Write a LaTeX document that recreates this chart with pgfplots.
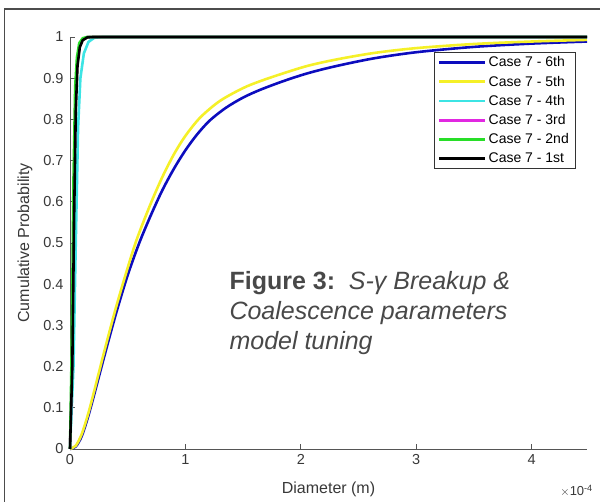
\documentclass[border=0pt]{standalone}
\usepackage{pgfplots}
\pgfplotsset{compat=1.18}
\usepackage{fontspec}
\setmainfont{Liberation Sans}

\definecolor{c6}{RGB}{12,12,190}
\definecolor{c5}{RGB}{245,240,40}
\definecolor{c4}{RGB}{60,228,228}
\definecolor{c3}{RGB}{225,40,225}
\definecolor{c2}{RGB}{40,222,40}
\definecolor{axgray}{RGB}{85,85,85}
\definecolor{txtgray}{RGB}{72,72,72}

\begin{document}
\begin{tikzpicture}
  \useasboundingbox (0,0) rectangle (600pt,502pt);
  % outer frame
  \draw[black!70, line width=1.3pt] (4.5pt,-1pt) -- (4.5pt,493pt) -- (601pt,493pt);

  \begin{axis}[
      at={(70pt,53pt)}, anchor=south west,
      width=517pt, height=412pt, scale only axis,
      xmin=0, xmax=4.48, ymin=0, ymax=1,
      axis x line*=bottom, axis y line*=left,
      axis line style={axgray, line width=0.9pt},
      tick align=inside, major tick length=5pt,
      tick style={axgray, line width=0.8pt},
      xtick={0,1,2,3,4},
      ytick={0,0.1,0.2,0.3,0.4,0.5,0.6,0.7,0.8,0.9,1},
      /pgf/number format/assume math mode=true,
      xticklabel style={font=\fontsize{14.5}{16}\selectfont, text=black!78, yshift=-2pt},
      yticklabel style={font=\fontsize{14.5}{16}\selectfont, text=black!78, xshift=-3pt,
        /pgf/number format/fixed},
      xlabel={Diameter (m)},
      ylabel={Cumulative Probability},
      label style={font=\fontsize{16}{18}\selectfont, text=black!78},
      xlabel style={at={(axis description cs:0.5,-0.107)}, anchor=base},
      ylabel style={at={(axis description cs:-0.066,0.5)}, anchor=south},
      clip=false,
      legend style={at={(axis description cs:0.977,0.964)}, anchor=north east,
        draw=black!80, line width=0.6pt, fill=white,
        font=\fontsize{14}{15}\selectfont, row sep=3.6pt,
        inner xsep=4pt, inner ysep=2.5pt, cells={anchor=west}},
      legend image code/.code={\draw[#1, line width=2.8pt] (0pt,0pt) -- (46pt,0pt);},
    ]
    \addplot[c6, line width=2.6pt, smooth] coordinates {
      (0,0) (0.05,0.006) (0.1,0.03) (0.15,0.072) (0.2,0.122) (0.3,0.228)
      (0.4,0.33) (0.5,0.422) (0.6,0.5) (0.7,0.567) (0.8,0.628) (0.9,0.68)
      (1.0,0.725) (1.1,0.763) (1.21,0.797) (1.35,0.828) (1.5,0.853)
      (1.65,0.872) (1.85,0.893) (2.06,0.912) (2.3,0.929) (2.63,0.948)
      (3.0,0.963) (3.5,0.976) (4.0,0.984) (4.48,0.989)};
    \addlegendentry{Case 7 - 6th}
    \addplot[c5, line width=2.6pt, smooth] coordinates {
      (0,0) (0.05,0.008) (0.1,0.035) (0.15,0.078) (0.2,0.13) (0.3,0.24)
      (0.4,0.345) (0.5,0.44) (0.58,0.51) (0.7,0.596) (0.8,0.66) (0.9,0.715)
      (1.0,0.76) (1.13,0.805) (1.3,0.845) (1.5,0.876) (1.65,0.893)
      (1.85,0.912) (2.06,0.93) (2.3,0.945) (2.63,0.961) (3.0,0.973)
      (3.5,0.983) (4.0,0.989) (4.48,0.993)};
    \addlegendentry{Case 7 - 5th}
    \addplot[c4, line width=2.6pt] coordinates {
      (0,0) (0.03,0.2) (0.05,0.5) (0.07,0.78) (0.09,0.9) (0.12,0.96)
      (0.16,0.988) (0.21,0.998) (0.28,1) (4.48,1)};
    \addlegendentry{Case 7 - 4th}
    \addplot[c3, line width=2.6pt] coordinates {
      (0,0) (0.018,0.22) (0.033,0.6) (0.048,0.86) (0.063,0.94) (0.083,0.98)
      (0.11,0.995) (0.15,1) (4.48,1)};
    \addlegendentry{Case 7 - 3rd}
    \addplot[c2, line width=2.6pt] coordinates {
      (0,0) (0.015,0.25) (0.03,0.65) (0.045,0.88) (0.06,0.95) (0.08,0.985)
      (0.11,0.997) (0.15,1) (4.48,1)};
    \addlegendentry{Case 7 - 2nd}
    \addplot[black, line width=2.6pt] coordinates {
      (0,0) (0.02,0.2) (0.035,0.55) (0.05,0.82) (0.065,0.93) (0.085,0.975)
      (0.11,0.992) (0.15,0.999) (0.2,1) (4.48,1)};
    \addlegendentry{Case 7 - 1st}
  \end{axis}

  \node[anchor=base east, inner sep=0pt, font=\fontsize{13}{15}\selectfont, text=black!78]
    at (593pt,6pt) {$\times$10\textsuperscript{-4}};

  \node[anchor=base west, font=\fontsize{25}{30}\selectfont\bfseries, text=txtgray]
    at (226pt,212pt) {Figure 3:\ \ \mdseries\itshape S-γ Breakup \&};
  \node[anchor=base west, font=\fontsize{25}{30}\selectfont\itshape, text=txtgray]
    at (226pt,182pt) {Coalescence parameters};
  \node[anchor=base west, font=\fontsize{25}{30}\selectfont\itshape, text=txtgray]
    at (226pt,152pt) {model tuning};
\end{tikzpicture}
\end{document}
